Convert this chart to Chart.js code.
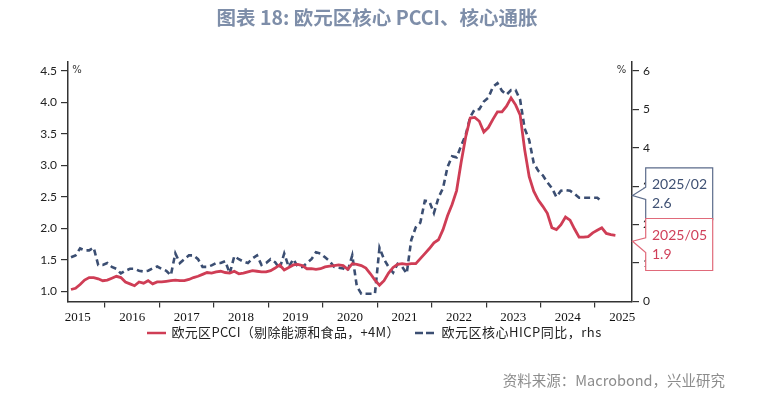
<!DOCTYPE html>
<html>
<head>
<meta charset="utf-8">
<script src="https://cdn.jsdelivr.net/npm/chart.js@4.4.1/dist/chart.umd.min.js"></script>
<style>
  body { margin: 0; background: #fff; }
  #wrap { width: 764px; height: 397px; position: relative; }
</style>
</head>
<body>
<div id="wrap"><canvas id="chart"></canvas></div>
<script>
// monthly series, both start May 2015 (PCCI is already pushed forward 4 months)
const startYear = 2015;
const startMonth = 5;

const pcci = [
  1.03, 1.05, 1.11, 1.18, 1.22, 1.22, 1.20, 1.17,
  1.18, 1.21, 1.24, 1.22, 1.15, 1.12, 1.09, 1.15, 1.13, 1.17, 1.12, 1.15,
  1.15, 1.16, 1.17, 1.18, 1.17, 1.17, 1.19, 1.22, 1.24, 1.27, 1.30, 1.29,
  1.31, 1.32, 1.30, 1.29, 1.32, 1.28, 1.29, 1.31, 1.33, 1.32, 1.31, 1.31,
  1.33, 1.37, 1.42, 1.34, 1.38, 1.42, 1.43, 1.41, 1.36, 1.36, 1.35, 1.36,
  1.39, 1.40, 1.41, 1.42, 1.41, 1.35, 1.44, 1.43, 1.41, 1.37, 1.28, 1.18,
  1.10, 1.17, 1.29, 1.38, 1.43, 1.44, 1.43, 1.44, 1.44, 1.52, 1.60, 1.68,
  1.77, 1.82, 1.98, 2.20, 2.38, 2.60, 3.05, 3.45, 3.75, 3.76, 3.70, 3.53,
  3.60, 3.73, 3.85, 3.85, 3.94, 4.07, 3.96, 3.80, 3.25, 2.82, 2.59, 2.45,
  2.35, 2.24, 2.01, 1.98, 2.06, 2.18, 2.13, 1.99, 1.86, 1.86, 1.87, 1.93,
  1.97, 2.01, 1.92, 1.90, 1.89
];

const coreHicp = [
  1.15, 1.20, 1.38, 1.33, 1.33, 1.40, 0.95, 0.95,
  1.00, 0.90, 0.85, 0.73, 0.80, 0.85, 0.85, 0.80, 0.78, 0.80, 0.86, 0.91,
  0.85, 0.80, 0.68, 1.25, 1.00, 1.10, 1.20, 1.20, 1.10, 0.90, 0.90, 0.94,
  1.00, 1.00, 1.05, 0.73, 1.18, 1.10, 1.04, 1.00, 1.12, 1.20, 0.95, 1.00,
  1.10, 1.02, 0.86, 1.25, 0.90, 1.10, 0.90, 0.90, 1.00, 1.10, 1.28, 1.25,
  1.15, 1.05, 0.90, 0.88, 0.86, 0.80, 1.20, 0.40, 0.20, 0.20, 0.20, 0.20,
  1.40, 1.10, 0.90, 0.75, 0.98, 0.90, 0.73, 1.60, 1.93, 2.05, 2.62, 2.60,
  2.30, 2.70, 2.95, 3.50, 3.78, 3.75, 4.05, 4.33, 4.80, 5.00, 5.00, 5.20,
  5.30, 5.58, 5.68, 5.48, 5.38, 5.50, 5.50, 5.25, 4.50, 4.20, 3.60, 3.40,
  3.28, 3.10, 2.95, 2.72, 2.88, 2.90, 2.88, 2.80, 2.70, 2.70, 2.70, 2.70,
  2.70, 2.60
];

const leftTicks = [1.0, 1.5, 2.0, 2.5, 3.0, 3.5, 4.0, 4.5];
const rightTicks = [0, 1, 2, 3, 4, 5, 6];
const yearLabels = [2015, 2016, 2017, 2018, 2019, 2020, 2021, 2022, 2023, 2024, 2025];
const yearBreaks = [2016, 2017, 2018, 2019, 2020, 2021, 2022, 2023, 2024, 2025];

const pcciName = "欧元区PCCI（剔除能源和食品，+4M）";
const hicpName = "欧元区核心HICP同比，rhs";
const lastHicp = { date: "2025/02", value: 2.6 };
const lastPcci = { date: "2025/05", value: 1.9 };

const RED = "#cf3d55";
const BLUE = "#3b4e72";
const AXIS = "#333";

function monthPos(i) {
  return startYear + (startMonth - 1 + i + 0.5) / 12;
}
const toPoints = arr => arr.map((v, i) => ({ x: monthPos(i), y: v }));

function callout(ctx, tipY, top, bottom, b1, b2, stroke, color, lines) {
  const L = 645.7, R = 712.7, tipX = 632.5;
  ctx.save();
  ctx.beginPath();
  ctx.moveTo(L, top);
  ctx.lineTo(R, top);
  ctx.lineTo(R, bottom);
  ctx.lineTo(L, bottom);
  ctx.lineTo(L, b2);
  ctx.lineTo(tipX, tipY);
  ctx.lineTo(L, b1);
  ctx.closePath();
  ctx.fillStyle = "#fff";
  ctx.fill();
  ctx.strokeStyle = stroke;
  ctx.lineWidth = 1.2;
  ctx.stroke();
  ctx.fillStyle = color;
  ctx.font = '14px Lato';
  ctx.textBaseline = "middle";
  ctx.textAlign = "left";
  ctx.fillText(lines[0], 652, top + 16.5);
  ctx.fillText(lines[1], 652, top + 35.5);
  ctx.restore();
}

const decor = {
  id: "decor",
  afterDraw(chart) {
    const ctx = chart.ctx;
    const s = chart.scales;
    ctx.save();

    // title
    ctx.fillStyle = "#7e8ea9";
    ctx.font = 'bold 19.5px "Noto Sans CJK SC"';
    ctx.textAlign = "center";
    ctx.textBaseline = "middle";
    ctx.fillText("图表 18: 欧元区核心 PCCI、核心通胀", 377, 17.5);

    // source
    ctx.fillStyle = "#8c8c8c";
    ctx.font = '14.5px "Noto Sans CJK SC"';
    ctx.textAlign = "right";
    ctx.fillText("资料来源：Macrobond，兴业研究", 725, 380);

    // unit marks
    ctx.fillStyle = "#333";
    ctx.font = '10px "DejaVu Sans"';
    ctx.textAlign = "center";
    ctx.fillText("%", 77, 70);
    ctx.fillText("%", 621.5, 70);

    // legend
    ctx.lineWidth = 2.5;
    ctx.strokeStyle = RED;
    ctx.beginPath();
    ctx.moveTo(147, 333);
    ctx.lineTo(166, 333);
    ctx.stroke();
    ctx.strokeStyle = BLUE;
    ctx.setLineDash([8, 3]);
    ctx.beginPath();
    ctx.moveTo(415, 333);
    ctx.lineTo(435, 333);
    ctx.stroke();
    ctx.setLineDash([]);
    ctx.fillStyle = "#222";
    ctx.font = '13px "Noto Sans CJK SC"';
    ctx.letterSpacing = "0.3px";
    ctx.textAlign = "left";
    ctx.fillText(pcciName, 171.5, 332);
    ctx.letterSpacing = "0.5px";
    ctx.fillText(hicpName, 441.5, 332);
    ctx.letterSpacing = "0px";
    ctx.restore();

    // last-value callouts
    const tb = s.y2.getPixelForValue(lastHicp.value) - 6;
    callout(ctx, tb, tb - 27.7, tb + 24, tb - 8.3, tb + 4, "#5b6b8a", "#3e5073",
      [lastHicp.date, lastHicp.value.toFixed(1)]);
    const tr = s.y.getPixelForValue(lastPcci.value) + 6.5;
    callout(ctx, tr, tr - 22.7, tr + 29.3, tr - 3.4, tr + 11.3, "#e06a7a", "#d0405a",
      [lastPcci.date, lastPcci.value.toFixed(1)]);
  }
};

new Chart(document.getElementById("chart").getContext("2d"), {
  type: "line",
  data: {
    datasets: [
      {
        label: pcciName,
        data: toPoints(pcci),
        yAxisID: "y",
        borderColor: RED,
        borderWidth: 2.8,
        pointRadius: 0,
        tension: 0
      },
      {
        label: hicpName,
        data: toPoints(coreHicp),
        yAxisID: "y2",
        borderColor: BLUE,
        borderWidth: 2.6,
        borderDash: [6, 4],
        pointRadius: 0,
        tension: 0
      }
    ]
  },
  options: {
    responsive: true,
    maintainAspectRatio: false,
    animation: false,
    layout: { padding: { top: 62, left: 0, right: 0, bottom: 0 } },
    scales: {
      x: {
        type: "linear",
        min: 2015.32,
        max: 2025.68,
        afterBuildTicks: axis => {
          axis.ticks = yearBreaks.map(v => ({ value: v }))
            .concat(yearLabels.map(v => ({ value: v + 0.5 })))
            .sort((a, b) => a.value - b.value);
        },
        afterFit: axis => { axis.height = 95.5; },
        ticks: {
          autoSkip: false,
          maxRotation: 0,
          padding: 2,
          color: "#111",
          font: { family: "Liberation Serif", size: 13 },
          callback: v => (v % 1 === 0.5 ? String(Math.floor(v)) : "")
        },
        grid: {
          drawOnChartArea: false,
          tickLength: 6,
          lineWidth: 1.2,
          tickColor: c => (c.tick && c.tick.value % 1 === 0 ? AXIS : "rgba(0,0,0,0)")
        },
        border: { color: AXIS, width: 1.5 }
      },
      y: {
        position: "left",
        min: 0.84,
        max: 4.64,
        afterBuildTicks: axis => { axis.ticks = leftTicks.map(v => ({ value: v })); },
        afterFit: axis => { axis.width = 68; },
        ticks: {
          padding: 4,
          color: "#222",
          font: { family: "Lato", size: 12 },
          callback: v => v.toFixed(1)
        },
        grid: { drawOnChartArea: false, tickLength: 7, tickColor: AXIS, lineWidth: 1.2 },
        border: { color: AXIS, width: 1.5 }
      },
      y2: {
        position: "right",
        min: 0,
        max: 6.23,
        afterBuildTicks: axis => { axis.ticks = rightTicks.map(v => ({ value: v })); },
        afterFit: axis => { axis.width = 132; },
        ticks: {
          padding: 4,
          color: "#222",
          font: { family: "Lato", size: 12 },
          callback: v => String(v)
        },
        grid: { drawOnChartArea: false, tickLength: 7, tickColor: AXIS, lineWidth: 1.2 },
        border: { color: AXIS, width: 1.5 }
      }
    },
    plugins: {
      legend: { display: false },
      tooltip: { enabled: false }
    }
  },
  plugins: [decor]
});
</script>
</body>
</html>
